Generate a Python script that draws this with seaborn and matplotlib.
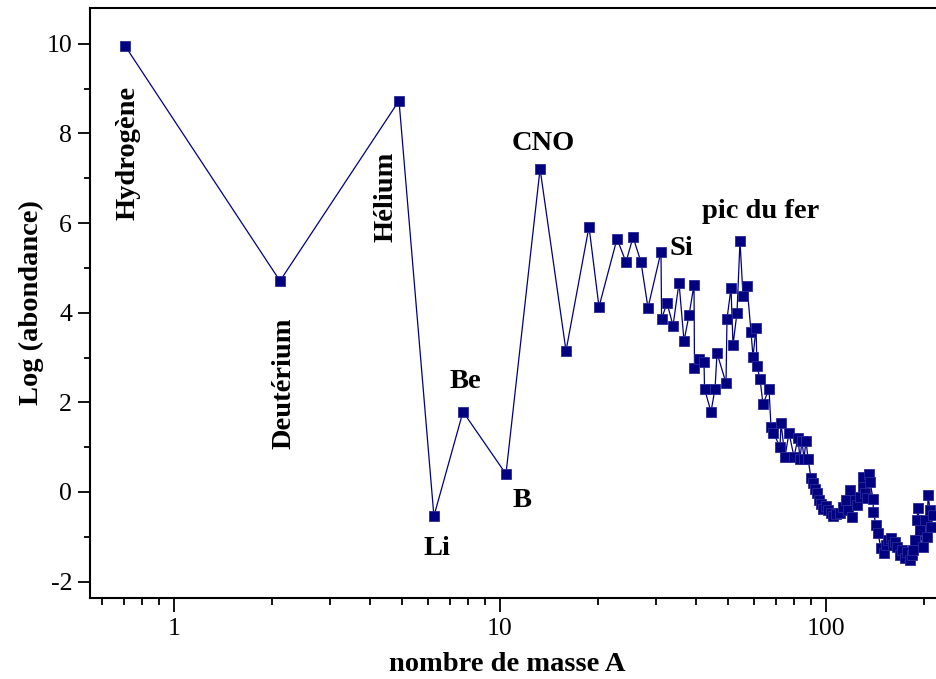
import numpy as np
import pandas as pd
import matplotlib
matplotlib.use("Agg")
import matplotlib.pyplot as plt
from matplotlib.ticker import FixedLocator, NullFormatter
import seaborn as sns

# ---- data ----
mass_number = [
    0.707, 2.114, 4.90, 6.27, 7.70, 10.43, 13.27, 15.94, 18.75, 20.12,
    22.85, 24.35, 25.59, 27.07, 28.44, 31.18, 31.3, 32.53, 33.94, 35.41,
    36.68, 38.01, 39.36, 39.5, 40.77, 42.25, 42.4, 44.38, 45.66, 46.31,
    49.35, 49.69, 51.12, 51.85, 53.33, 54.47, 55.64, 57.24, 58.88, 59.72,
    60.99, 61.42, 62.74, 64.08, 66.86, 67.81, 69.0, 72.26, 72.78, 74.84,
    77.0, 79.77, 82.06, 83.2, 84.4, 85.6, 86.8, 88.1, 89.9, 91.2,
    92.5, 93.8, 95.2, 96.5, 97.9, 100.0, 101.4, 103.6, 105.1, 107.3,
    110.4, 112.7, 115.2, 116.8, 118.5, 120.2, 122.7, 124.5, 127.2, 129.9,
    130.3, 131.7, 133.6, 135.5, 136.5, 139.4, 139.8, 142.3, 144.3, 147.4,
    150.6, 152.8, 155.0, 158.3, 160.6, 162.9, 165.1, 168.7, 171.1, 174.7,
    177.2, 181.0, 183.6, 184.9, 187.5, 190.2, 191.5, 194.3, 198.4, 201.3,
    204.1, 205.6, 208.5, 210.0, 213.0,
]
log_abundance = [
    9.96, 4.71, 8.73, -0.54, 1.79, 0.40, 7.21, 3.15, 5.92, 4.13,
    5.65, 5.13, 5.69, 5.13, 4.11, 5.36, 3.86, 4.22, 3.71, 4.67,
    3.37, 3.95, 4.62, 2.77, 2.97, 2.90, 2.30, 1.79, 2.30, 3.10,
    2.43, 3.86, 4.55, 3.28, 4.00, 5.60, 4.38, 4.60, 3.57, 3.01,
    3.66, 2.81, 2.52, 1.96, 2.30, 1.45, 1.32, 1.00, 1.54, 0.78,
    1.32, 0.78, 1.21, 0.74, 1.14, 0.74, 1.14, 0.74, 0.31, 0.20,
    0.07, -0.02, -0.18, -0.27, -0.38, -0.31, -0.40, -0.47, -0.54, -0.49,
    -0.47, -0.33, -0.18, -0.40, 0.04, -0.56, -0.18, -0.29, -0.11, 0.33,
    0.11, -0.02, -0.13, 0.40, 0.22, -0.16, -0.45, -0.74, -0.92, -1.25,
    -1.36, -1.18, -1.07, -1.03, -1.18, -1.12, -1.23, -1.41, -1.29, -1.47,
    -1.34, -1.52, -1.41, -1.29, -1.07, -0.63, -0.36, -0.85, -1.23, -0.63,
    -1.00, -0.07, -0.40, -0.78, -0.51,
]

# annotations
labels = ["Hydrogène", "Deutérium", "Hélium", "Li", "Be", "B", "CNO", "Si", "pic du fer"]
label_x = [0.723, 2.17, 4.47, 6.41, 7.81, 11.68, 13.55, 35.9, 63.2]
label_y = [7.57, 2.43, 6.58, -1.41, 2.32, -0.33, 7.63, 5.29, 6.12]
label_rot = [90, 90, 90, 0, 0, 0, 0, 0, 0]

x_major = [1, 10, 100]
x_major_labels = ["1", "10", "100"]
y_major = [-2, 0, 2, 4, 6, 8, 10]

df = pd.DataFrame({"A": mass_number, "logab": log_abundance})

sns.set_style("ticks")
plt.rcParams["font.family"] = ["Liberation Serif", "DejaVu Serif"]
plt.rcParams["text.color"] = "black"
plt.rcParams["axes.labelcolor"] = "black"

W, H = 936, 679
fig = plt.figure(figsize=(W / 100, H / 100), dpi=100)
left, right, top, bottom = 90, 940, 8, 598
ax = fig.add_axes([left / W, 1 - bottom / H, (right - left) / W, (bottom - top) / H])

sns.lineplot(data=df, x="A", y="logab", ax=ax, estimator=None, sort=False,
             color="#000080", linewidth=0.9, marker="s", markersize=6.8,
             markeredgecolor="#2a2a9a", markeredgewidth=0.6, clip_on=False)

ax.set_xscale("log")
ax.set_xlim(0.5525, 223.7)
ax.set_ylim(-2.366, 10.80)

ax.xaxis.set_major_locator(FixedLocator(x_major))
ax.set_xticklabels(x_major_labels)
minor = [m * d for d in (0.1, 1, 10, 100) for m in range(2, 10)]
ax.xaxis.set_minor_locator(FixedLocator(minor))
ax.xaxis.set_minor_formatter(NullFormatter())
ax.set_yticks(y_major)
ax.set_yticklabels([str(v) for v in y_major])
ax.yaxis.set_minor_locator(FixedLocator([-1, 1, 3, 5, 7, 9]))

ax.tick_params(axis="both", which="both", width=1.3, direction="out",
               color="black", labelcolor="black", labelsize=18.5)
ax.tick_params(axis="x", which="major", length=10, pad=4.3)
ax.tick_params(axis="x", which="minor", length=5)
ax.tick_params(axis="y", which="major", length=8.6, pad=4.3)
ax.tick_params(axis="y", which="minor", length=4.5)

for s in ("left", "bottom", "top"):
    ax.spines[s].set_linewidth(1.5)
    ax.spines[s].set_color("black")
ax.spines["right"].set_visible(False)

ax.set_xlabel("nombre de masse A", fontsize=20.5, fontweight="bold", color="black")
ax.set_ylabel("Log (abondance)", fontsize=20.5, fontweight="bold", color="black")
ax.xaxis.label.set_verticalalignment("baseline")
ax.xaxis.set_label_coords((507 - left) / (right - left), (598 - 671) / (bottom - top))
ax.yaxis.set_label_coords((44 - left) / (right - left), 0.5)

for t, x, y, r in zip(labels, label_x, label_y, label_rot):
    if r == 90:
        ax.text(x, y, t, rotation=90, ha="center", va="center",
                fontsize=20.5, fontweight="bold", color="black")
    else:
        ax.text(x, y, t, ha="center", va="baseline",
                fontsize=20.5, fontweight="bold", color="black")

fig.savefig("out.png", dpi=100)
